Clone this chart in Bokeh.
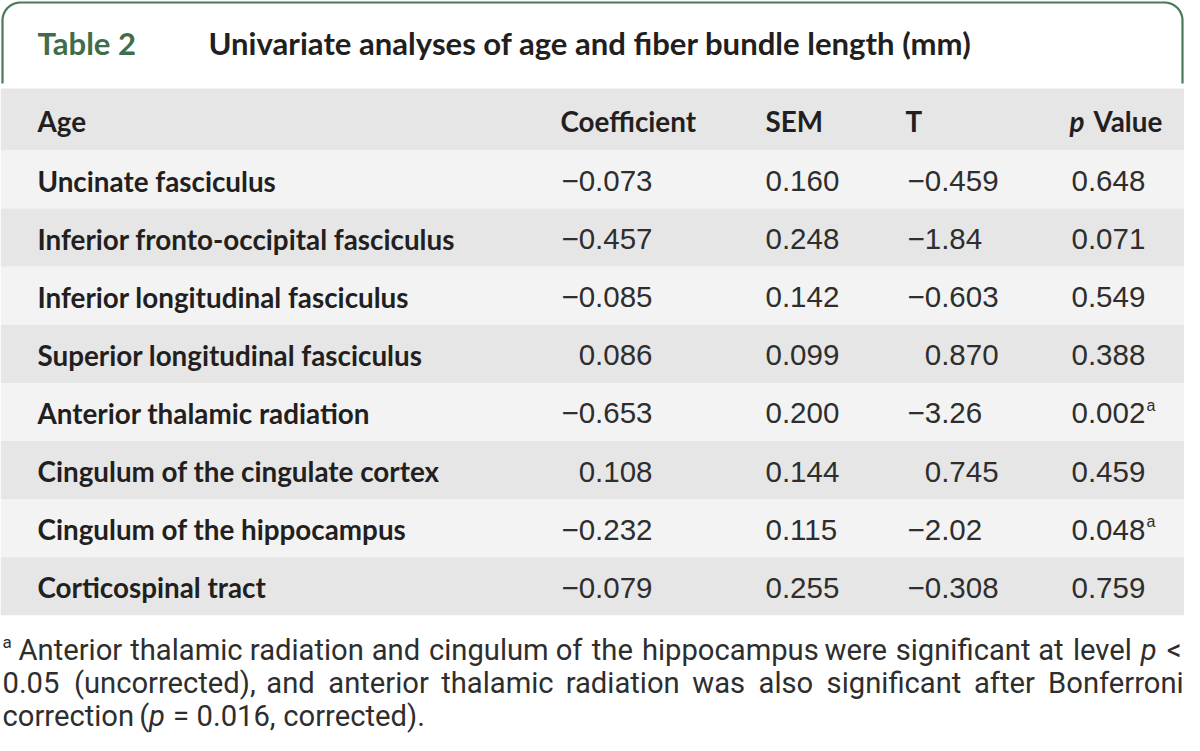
import numpy as np
from bokeh.plotting import figure
from bokeh.models import Range1d
from bokeh.core.properties import value
from bokeh.embed import file_html
from bokeh.resources import INLINE

# ---------------- data ----------------
table_number = "Table 2"
table_title = "Univariate analyses of age and fiber bundle length (mm)"
header_first = "Age"
header_cols = ["Coefficient", "SEM", "T"]
header_p_italic = "p"
header_p_rest = "Value"

tracts = [
    "Uncinate fasciculus",
    "Inferior fronto-occipital fasciculus",
    "Inferior longitudinal fasciculus",
    "Superior longitudinal fasciculus",
    "Anterior thalamic radiation",
    "Cingulum of the cingulate cortex",
    "Cingulum of the hippocampus",
    "Corticospinal tract",
]
coefficient = ["\u22120.073", "\u22120.457", "\u22120.085", "0.086", "\u22120.653", "0.108", "\u22120.232", "\u22120.079"]
sem = ["0.160", "0.248", "0.142", "0.099", "0.200", "0.144", "0.115", "0.255"]
t_values = ["\u22120.459", "\u22121.84", "\u22120.603", "0.870", "\u22123.26", "0.745", "\u22122.02", "\u22120.308"]
p_values = ["0.648", "0.071", "0.549", "0.388", "0.002", "0.459", "0.048", "0.759"]
p_marks = ["", "", "", "", "a", "", "a", ""]

footnote_mark = "a"
footnote_lines = [
    "Anterior thalamic radiation and cingulum of the hippocampus were significant at level p <",
    "0.05 (uncorrected), and anterior thalamic radiation was also significant after Bonferroni",
    "correction (p = 0.016, corrected).",
]

# ---------------- layout ----------------
W, H = 1184, 735

p = figure(width=W, height=H, x_range=Range1d(0, W), y_range=Range1d(H, 0),
           output_backend="svg", toolbar_location=None, min_border=0)
p.axis.visible = False
p.grid.visible = False
p.outline_line_color = None
p.background_fill_color = "white"
p.border_fill_color = "white"

GREEN = "#4a7a57"
GREEN_TXT = "#3f6d4b"
DARK = "#231f20"
NUM = "#2e2e2e"
GRAY = "#e6e6e6"
LIGHT = "#f3f3f3"

LABEL_FONT = value("Lato")
NUM_FONT = value("Liberation Sans")
NOTE_FONT = value("Roboto")

def fs(px):
    return f"{px:.1f}px"

# title box border with rounded top corners
r = 18
left, right, top, bot = 2, W - 2, 2, 83
th1 = np.linspace(np.pi, np.pi / 2, 20)
th2 = np.linspace(np.pi / 2, 0, 20)
bx = np.concatenate([[left], left + r + r * np.cos(th1), right - r + r * np.cos(th2), [right]])
by = np.concatenate([[bot], top + r - r * np.sin(th1), top + r - r * np.sin(th2), [bot]])
p.line(bx, by, line_color=GREEN, line_width=2.2)

TFS = 31.1
p.text([37], [42], text=[table_number], text_font=LABEL_FONT, text_font_style="bold",
       text_font_size=fs(TFS), text_color=GREEN_TXT, text_baseline="middle")
p.text([208], [42], text=[table_title], text_font=LABEL_FONT, text_font_style="bold",
       text_font_size=fs(TFS), text_color=DARK, text_baseline="middle")

# header + rows
HEAD_TOP, ROW_TOP, ROW_H = 88, 150, 58.1
n = len(tracts)
p.quad(left=[0], right=[W], top=[HEAD_TOP], bottom=[ROW_TOP], fill_color=GRAY, line_color=None)
row_tops = [ROW_TOP + i * ROW_H for i in range(n)]
row_bots = [t + ROW_H for t in row_tops]
row_cols = [LIGHT if i % 2 == 0 else GRAY for i in range(n)]
p.quad(left=[0] * n, right=[W] * n, top=row_tops, bottom=row_bots, fill_color=row_cols, line_color=None)
yc = [t + ROW_H / 2 + 1.5 for t in row_tops]

HY = (HEAD_TOP + ROW_TOP) / 2 + 1.5
LBL = 27.8
p.text([37], [HY], text=[header_first], text_font=LABEL_FONT, text_font_style="bold",
       text_font_size=fs(LBL), text_color=DARK, text_baseline="middle")
p.text([560, 765, 905], [HY] * 3, text=header_cols, text_font=LABEL_FONT, text_font_style="bold",
       text_font_size=fs(LBL), text_color=DARK, text_baseline="middle")
p.text([1069], [HY], text=[header_p_italic], text_font=LABEL_FONT, text_font_style="bold italic",
       text_font_size=fs(LBL), text_color=DARK, text_baseline="middle")
p.text([1093], [HY], text=[header_p_rest], text_font=LABEL_FONT, text_font_style="bold",
       text_font_size=fs(LBL), text_color=DARK, text_baseline="middle")

p.text([37] * n, yc, text=tracts, text_font=LABEL_FONT, text_font_style="bold",
       text_font_size=fs(LBL), text_color=DARK, text_baseline="middle")

NFS = 29.5
p.text([652] * n, yc, text=coefficient, text_font=NUM_FONT, text_font_size=fs(NFS),
       text_color=NUM, text_baseline="middle", text_align="right")
p.text([765] * n, yc, text=sem, text_font=NUM_FONT, text_font_size=fs(NFS),
       text_color=NUM, text_baseline="middle")
MINUS_W = 0.584 * NFS
t_x = [907 if v.startswith("\u2212") else 907 + MINUS_W for v in t_values]
p.text(t_x, yc, text=t_values, text_font=NUM_FONT, text_font_size=fs(NFS),
       text_color=NUM, text_baseline="middle")
p.text([1071] * n, yc, text=p_values, text_font=NUM_FONT, text_font_size=fs(NFS),
       text_color=NUM, text_baseline="middle")
mk_idx = [i for i, m in enumerate(p_marks) if m]
p.text([1146] * len(mk_idx), [yc[i] - 8 for i in mk_idx], text=[p_marks[i] for i in mk_idx],
       text_font=NUM_FONT, text_font_size=fs(16), text_color=NUM, text_baseline="middle")

# ---------------- footnote (justified) ----------------
CW = {' ': .248, 'a': .531, 'b': .548, 'c': .510, 'd': .550, 'e': .517, 'f': .339, 'g': .548,
      'h': .538, 'i': .237, 'l': .237, 'm': .855, 'n': .539, 'o': .557, 'p': .548, 'r': .331,
      's': .503, 't': .319, 'u': .538, 'v': .473, 'w': .733, 'y': .473, 'A': .652, 'B': .622,
      '.': .257, ',': .192, '(': .334, ')': .339, '<': .508, '=': .536}
def em(s):
    return sum(CW.get(ch, .562) for ch in s)

words = [ln.split(" ") for ln in footnote_lines]
L1_X0, X1 = 18, W - 3
nat1 = sum(em(w) for w in words[0]) + CW[' '] * (len(words[0]) - 1)
NOTE_FS = 0.97 * (X1 - L1_X0) / nat1
line_y = [649, 682, 715]
line_x0 = [L1_X0, 2, 2]
norm_x, norm_y, norm_t, ital_x, ital_y, ital_t = [], [], [], [], [], []
for li, ws in enumerate(words):
    widths = [em(w) * NOTE_FS for w in ws]
    if li < 2:
        gap = (X1 - line_x0[li] - sum(widths)) / (len(ws) - 1)
    else:
        gap = CW[' '] * NOTE_FS * 1.1
    x = line_x0[li]
    for w, wd in zip(ws, widths):
        if w == "p":
            ital_x.append(x); ital_y.append(line_y[li]); ital_t.append("p")
        elif w == "(p":
            norm_x.append(x); norm_y.append(line_y[li]); norm_t.append("(")
            ital_x.append(x + CW['('] * NOTE_FS); ital_y.append(line_y[li]); ital_t.append("p")
        else:
            norm_x.append(x); norm_y.append(line_y[li]); norm_t.append(w)
        x += wd + gap

p.text(norm_x, norm_y, text=norm_t, text_font=NOTE_FONT, text_font_size=fs(NOTE_FS),
       text_color=NUM, text_baseline="middle")
p.text(ital_x, ital_y, text=ital_t, text_font=NOTE_FONT, text_font_style="italic",
       text_font_size=fs(NOTE_FS), text_color=NUM, text_baseline="middle")
p.text([2], [641], text=[footnote_mark], text_font=NOTE_FONT, text_font_size=fs(17),
       text_color=NUM, text_baseline="middle")

open("out.html", "w").write(file_html(p, INLINE))
